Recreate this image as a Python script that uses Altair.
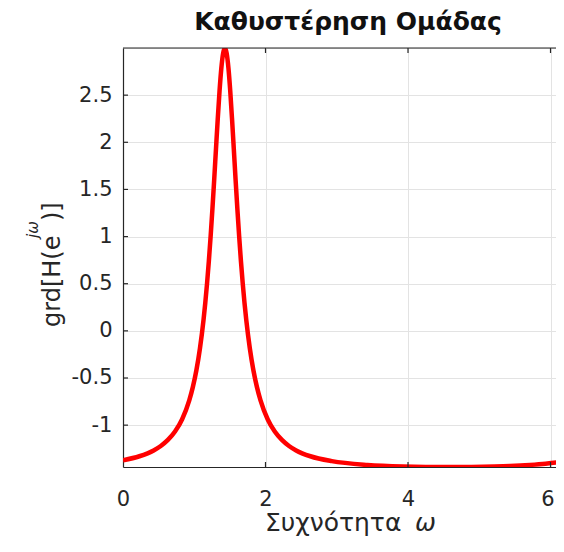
import altair as alt
import pandas as pd

# ---- data ----
omega = [0.00, 0.23, 0.43, 0.53, 0.63, 0.73, 0.83, 0.93, 0.98, 1.03, 1.08, 1.13,
         1.155, 1.18, 1.205, 1.23, 1.255, 1.28, 1.305, 1.33, 1.355, 1.38, 1.405,
         1.43, 1.455, 1.48, 1.505, 1.53, 1.555, 1.58, 1.605, 1.63, 1.655, 1.68,
         1.705, 1.73, 1.78, 1.83, 1.88, 1.93, 2.03, 2.13, 2.23, 2.33, 2.43, 2.63,
         2.93, 3.43, 3.93, 4.57, 5.21, 5.43, 5.71, 5.93, 6.19, 6.283]
grd = [-1.373, -1.330, -1.268, -1.221, -1.157, -1.068, -0.937, -0.737, -0.597,
       -0.418, -0.186, 0.115, 0.298, 0.506, 0.741, 1.004, 1.293, 1.605, 1.930,
       2.250, 2.545, 2.786, 2.944, 3.000, 2.944, 2.786, 2.545, 2.250, 1.930,
       1.605, 1.293, 1.004, 0.741, 0.506, 0.298, 0.115, -0.186, -0.418, -0.597,
       -0.737, -0.937, -1.068, -1.157, -1.221, -1.268, -1.330, -1.382, -1.422,
       -1.438, -1.444, -1.438, -1.433, -1.422, -1.409, -1.385, -1.373]
x_ticks = [0, 2, 4, 6]
y_ticks = [-1, -0.5, 0, 0.5, 1, 1.5, 2, 2.5]
title_text = ["Καθυστέρηση Ομάδας"]
x_label = ["Συχνότητα"]
x_label_sym = ["ω"]
y_label_main = ["grd[H(e"]
y_label_sup = ["jω"]
y_label_end = [")]"]

W, H = 433, 419
X_MAX = 6.077
Y_MIN, Y_MAX = -1.444, 3.0
FONT = "DejaVu Sans"
AX = "#262626"

df = pd.DataFrame({"w": omega, "g": grd})
xscale = alt.Scale(domain=[0, X_MAX], nice=False, zero=False)
yscale = alt.Scale(domain=[Y_MIN, Y_MAX], nice=False, zero=False)

xaxis = alt.Axis(values=x_ticks, ticks=False, labelPadding=21, labelFontSize=21,
                 labelFont=FONT, labelColor=AX, domainColor=AX, domainWidth=1.2,
                 gridColor="#e3e3e3", gridWidth=1, title=None, labelFlush=False,
                 labelExpr="'' + datum.value",
                 labelOffset={"condition": {"test": "datum.value == 6", "value": -3},
                              "value": 0})
yaxis = alt.Axis(values=y_ticks, ticks=False, labelPadding=11, labelFontSize=21,
                 labelFont=FONT, labelColor=AX, domainColor=AX, domainWidth=1.2,
                 gridColor="#e3e3e3", gridWidth=1, title=None, labelFlush=False,
                 labelExpr="'' + datum.value")

line = alt.Chart(df).mark_line(color="#ff0000", strokeWidth=4.5, clip=True,
                               interpolate="monotone").encode(
    x=alt.X("w:Q", scale=xscale, axis=xaxis),
    y=alt.Y("g:Q", scale=yscale, axis=yaxis),
)

xt = pd.DataFrame({"t": x_ticks[1:]})
yt = pd.DataFrame({"t": y_ticks})
tick_bottom = alt.Chart(xt).mark_rule(color=AX, strokeWidth=1.2).encode(
    x=alt.X("t:Q", scale=xscale, axis=xaxis), y=alt.value(H), y2=alt.value(H - 5))
tick_top = alt.Chart(xt).mark_rule(color=AX, strokeWidth=1.2).encode(
    x=alt.X("t:Q", scale=xscale, axis=xaxis), y=alt.value(0), y2=alt.value(5))
tick_left = alt.Chart(yt).mark_rule(color=AX, strokeWidth=1.2).encode(
    y=alt.Y("t:Q", scale=yscale, axis=yaxis), x=alt.value(0), x2=alt.value(5))
top_border = alt.Chart(pd.DataFrame({"t": [0]})).mark_rule(color=AX, strokeWidth=1.2).encode(
    y=alt.value(0), x=alt.value(0), x2=alt.value(W))

def txt(data, x, y, size, angle=0, italic=False, bold=False, align="left"):
    return alt.Chart(pd.DataFrame({"s": data})).mark_text(
        font=FONT, fontSize=size, color=AX if not bold else "#111111",
        align=align, baseline="alphabetic", angle=angle,
        fontWeight="bold" if bold else "normal",
        fontStyle="italic" if italic else "normal").encode(
        text="s:N", x=alt.value(x), y=alt.value(y))

title = txt(title_text, 225, -18, 25, bold=True, align="center")
xl1 = txt(x_label, 142, 483, 25)
xl2 = txt(x_label_sym, 292, 483, 25, italic=True)
yl1 = txt(y_label_main, -63, 279, 24, angle=270)
yl2 = txt(y_label_sup, -85, 190, 15, angle=270, italic=True)
yl3 = txt(y_label_end, -63, 173, 24, angle=270)

chart = alt.layer(line, tick_bottom, tick_top, tick_left, top_border,
                  title, xl1, xl2, yl1, yl2, yl3).properties(
    width=W, height=H,
    padding={"left": 115, "top": 40, "right": 0, "bottom": 70},
    autosize="none",
).configure_view(stroke=None).configure(background="white")

chart.save("out.html", embed_options={"renderer": "svg", "actions": False})
